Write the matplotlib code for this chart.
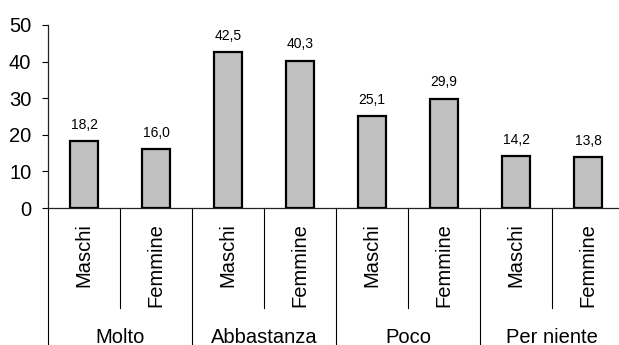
import matplotlib
matplotlib.use("Agg")
import matplotlib.pyplot as plt

plt.rcParams['font.family'] = ['Liberation Sans', 'DejaVu Sans']

groups = ["Molto", "Abbastanza", "Poco", "Per niente"]
sexes = ["Maschi", "Femmine"]
values = [18.2, 16.0, 42.5, 40.3, 25.1, 29.9, 14.2, 13.8]
yticks = [0, 10, 20, 30, 40, 50]

W, H = 619, 345
fig = plt.figure(figsize=(W / 100, H / 100), dpi=100)
left = 48 / W
bottom = (H - 208) / H
top = (H - 25) / H
right = 624 / W
ax = fig.add_axes([left, bottom, right - left, top - bottom])

n = len(values)
x = list(range(n))
ax.bar(x, values, width=0.4, color="#C0C0C0", edgecolor="black", linewidth=1.6, zorder=3)

for xi, v in zip(x, values):
    ax.annotate(f"{v:.1f}".replace(".", ","), (xi, v), xytext=(0, 9),
                textcoords="offset points", ha="center", va="baseline", fontsize=10)

ax.set_xlim(-0.5, n - 0.5)
ax.set_ylim(0, 50)
ax.set_yticks(yticks)
ax.tick_params(axis="y", labelsize=14.5, length=4.5, width=0.8, direction="out", pad=7.5)
ax.set_xticks([])
for s in ("top", "right"):
    ax.spines[s].set_visible(False)
for s in ("left", "bottom"):
    ax.spines[s].set_linewidth(0.9)
    ax.spines[s].set_color("#222222")

trans = ax.get_xaxis_transform()
# separators between sexes inside a group
for g in range(len(groups)):
    xs = 2 * g + 0.5
    ax.plot([xs, xs], [0, -0.546], transform=trans, color="black", lw=0.8, clip_on=False)
# separators between groups
for g in range(len(groups) + 1):
    xs = 2 * g - 0.5
    ax.plot([xs, xs], [0, -0.8], transform=trans, color="black", lw=0.8, clip_on=False)

for i in range(n):
    ax.text(i, -0.082, sexes[i % 2], transform=trans, rotation=90,
            ha="center", va="top", fontsize=14.5)
for g, name in enumerate(groups):
    ax.text(2 * g + 0.5, -0.735, name, transform=trans, ha="center",
            va="baseline", fontsize=14.5)

fig.savefig("out.png", dpi=100)
